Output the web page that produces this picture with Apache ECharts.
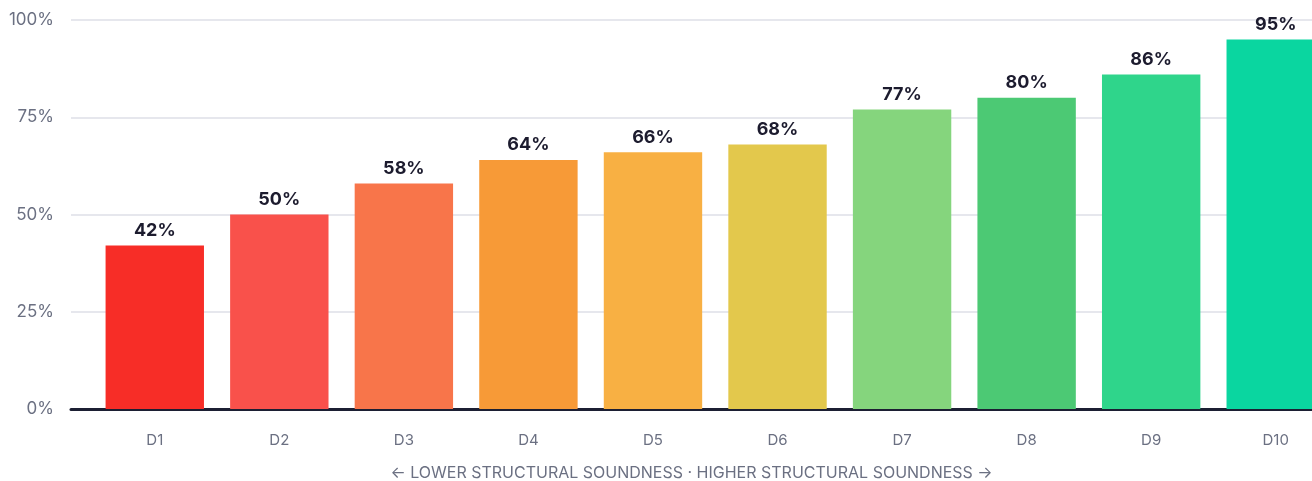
<!DOCTYPE html>
<html>
<head>
<meta charset="utf-8">
<script src="https://cdn.jsdelivr.net/npm/echarts@6/dist/echarts.min.js"></script>
<style>html,body{margin:0;padding:0;background:#fff}#c{width:1312px;height:481px}</style>
</head>
<body>
<div id="c"></div>
<script>
const categories = ['D1','D2','D3','D4','D5','D6','D7','D8','D9','D10'];
const values = [42, 50, 58, 64, 66, 68, 77, 80, 86, 95];
const barColors = ['#f72d27','#f9514b','#f8754a','#f79a37','#f8b043','#e3c84c','#85d57d','#4cc974','#2fd58b','#0ad6a0'];
const yTicks = [0, 25, 50, 75, 100];
const axisTitle = '\u2190 LOWER STRUCTURAL SOUNDNESS \u00b7 HIGHER STRUCTURAL SOUNDNESS \u2192';

const FONT = 'Inter, "Noto Sans", sans-serif';
const chart = echarts.init(document.getElementById('c'), null, {renderer: 'canvas'});
chart.setOption({
  animation: false,
  grid: [
    {left: 71, right: 0, top: 20, bottom: 72, outerBoundsMode: 'none', containLabel: false},
    {left: 92.5, right: -26, top: 20, bottom: 72, outerBoundsMode: 'none', containLabel: false}
  ],
  xAxis: [
    {
      gridIndex: 0, type: 'category', data: [''],
      axisLine: {show: true, lineStyle: {color: '#1c1f33', width: 3}},
      axisTick: {show: false}, axisLabel: {show: false},
      name: axisTitle, nameLocation: 'middle', nameGap: 56,
      nameTextStyle: {color: '#6b7082', fontSize: 16, fontFamily: FONT}
    },
    {
      gridIndex: 1, type: 'category', data: categories,
      axisLine: {show: false}, axisTick: {show: false},
      axisLabel: {color: '#6b7082', fontSize: 15, margin: 24, fontFamily: FONT}
    }
  ],
  yAxis: [
    {
      gridIndex: 0, type: 'value', min: yTicks[0], max: yTicks[yTicks.length - 1], interval: 25,
      axisLine: {show: false}, axisTick: {show: false},
      axisLabel: {formatter: '{value}%', color: '#6b7082', fontSize: 17, margin: 17, fontFamily: FONT},
      splitLine: {lineStyle: {color: '#e6e7ed', width: 2}}
    },
    {
      gridIndex: 1, type: 'value', min: yTicks[0], max: yTicks[yTicks.length - 1], interval: 25,
      show: false
    }
  ],
  series: [{
    type: 'bar', xAxisIndex: 1, yAxisIndex: 1,
    barCategoryGap: '21%',
    data: values.map((v, i) => ({value: v, itemStyle: {color: barColors[i]}})),
    label: {
      show: true, position: 'top', distance: 6,
      formatter: '{c}%', color: '#1c1b2e', fontSize: 18, fontWeight: 'bold', fontFamily: FONT
    }
  }]
});
</script>
</body>
</html>
